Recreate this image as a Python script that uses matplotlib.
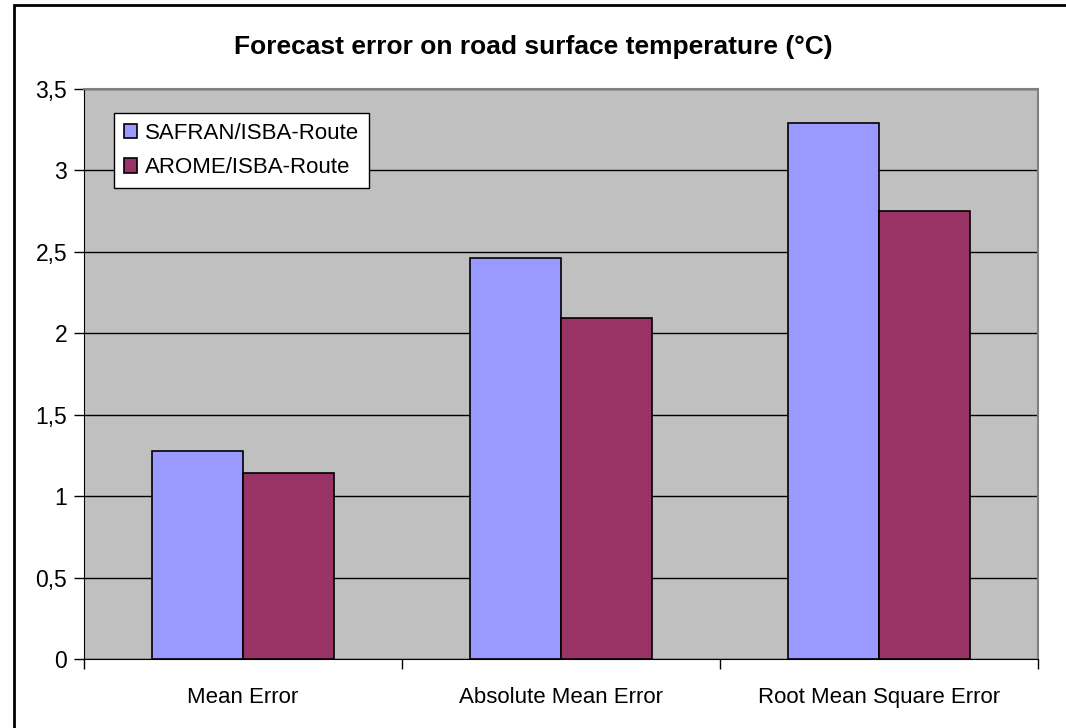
import matplotlib
matplotlib.use("Agg")
import matplotlib.pyplot as plt
from matplotlib.patches import Rectangle
import numpy as np

# Données du graphique
categories = ["Mean Error", "Absolute Mean Error", "Root Mean Square Error"]
safran = [1.275, 2.46, 3.29]
arome = [1.145, 2.095, 2.75]
series_names = ["SAFRAN/ISBA-Route", "AROME/ISBA-Route"]
yticks = [0, 0.5, 1, 1.5, 2, 2.5, 3, 3.5]
ytick_labels = ["0", "0,5", "1", "1,5", "2", "2,5", "3", "3,5"]

plt.rcParams['font.family'] = ['Liberation Sans', 'DejaVu Sans']

W, H = 1066, 728
fig = plt.figure(figsize=(W / 100, H / 100), dpi=100)
fig.patch.set_facecolor('white')

# Zone de tracé (pixels -> coordonnées de la figure)
left, right, top, bottom = 84, 1038, 89, 659
ax = fig.add_axes([left / W, 1 - bottom / H, (right - left) / W, (bottom - top) / H])
ax.set_facecolor('#C0C0C0')

x = np.arange(len(categories))
bw = 0.286
ax.bar(x - bw / 2, safran, bw, color='#9999FF', edgecolor='black', linewidth=1.2,
       label=series_names[0], zorder=3)
ax.bar(x + bw / 2, arome, bw, color='#993366', edgecolor='black', linewidth=1.2,
       label=series_names[1], zorder=3)

ax.set_xlim(-0.5, len(categories) - 0.5)
ax.set_ylim(0, 3.5)

ax.set_yticks(yticks)
ax.set_yticklabels(ytick_labels, fontsize=16.5)
ax.yaxis.grid(True, color='black', linewidth=1.0, zorder=1)
ax.set_axisbelow(True)

# Étiquettes des catégories et graduations entre les catégories
ax.set_xticks(np.arange(-0.5, len(categories)), minor=False)
ax.set_xticklabels([])
ax.set_xticks(x, minor=True)
ax.set_xticklabels(categories, minor=True, fontsize=16)
ax.tick_params(axis='x', which='minor', length=0, pad=20)
ax.tick_params(axis='x', which='major', length=7, direction='out', width=1)
ax.tick_params(axis='y', length=7, direction='out', width=1, pad=5)

for s in ['top', 'right']:
    ax.spines[s].set_color('#808080')
    ax.spines[s].set_linewidth(1.5)
ax.spines['left'].set_color('black')
ax.spines['bottom'].set_color('black')

leg = ax.legend(loc='upper left', bbox_to_anchor=(30 / (right - left), 1 - 24 / (bottom - top)),
                fontsize=16, frameon=True, fancybox=False, edgecolor='black',
                handlelength=0.6, handleheight=0.6, handletextpad=0.35,
                borderpad=0.45, labelspacing=0.6, borderaxespad=0)
leg.get_frame().set_linewidth(1.0)
leg.get_frame().set_facecolor('white')
leg.get_frame().set_alpha(1)

fig.text(533 / W, 1 - 47 / H, "Forecast error on road surface temperature (°C)",
         ha='center', va='center', fontsize=19, fontweight='bold')

# Cadre extérieur du graphique
fig.patches.append(Rectangle((14 / W, -0.05), 1.1, 1 - 5 / H + 0.05,
                             transform=fig.transFigure, fill=False,
                             edgecolor='black', linewidth=2))

fig.savefig("out.png", dpi=100)
